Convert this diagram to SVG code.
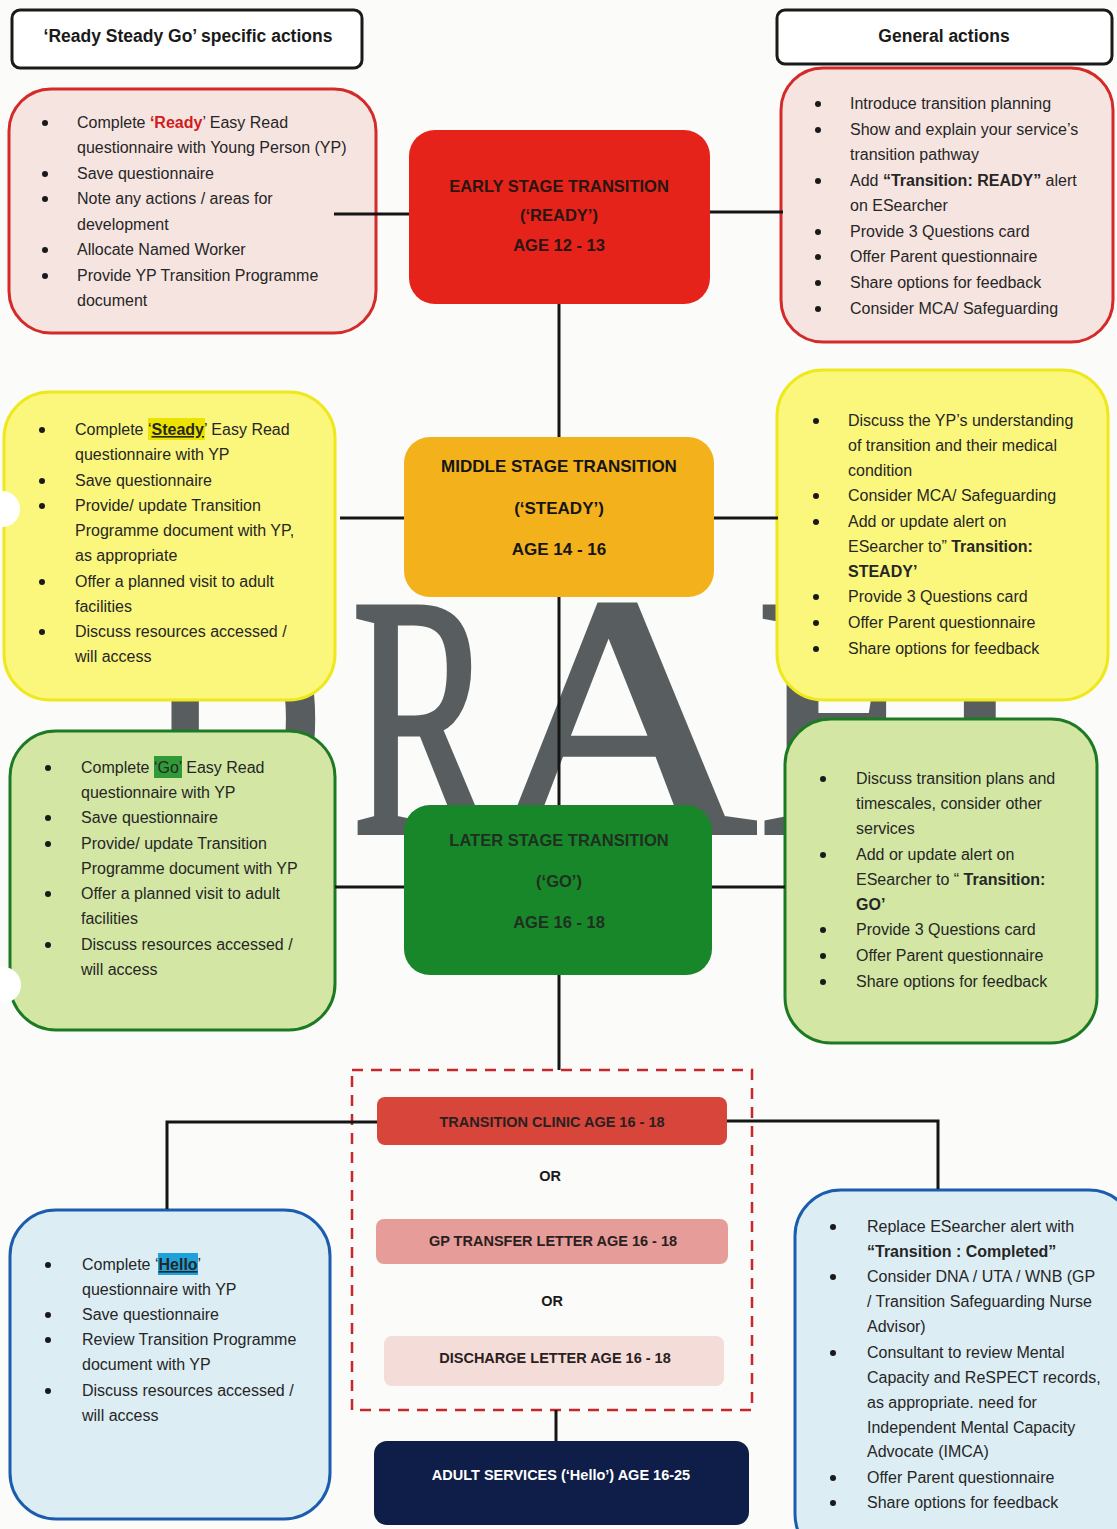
<svg xmlns="http://www.w3.org/2000/svg" width="1117" height="1529" viewBox="0 0 1117 1529">
  <style>
    .tx { font-family: "Liberation Sans", Arial, sans-serif; font-size: 16px; fill: #262626; }
    .bd { font-weight: bold; }
    .hd { font-family: "Liberation Sans", Arial, sans-serif; font-size: 17.5px; font-weight: bold; fill: #1a1a1a; text-anchor: middle; }
    .nd { font-family: "Liberation Sans", Arial, sans-serif; font-weight: bold; text-anchor: middle; }
    .opt { font-family: "Liberation Sans", Arial, sans-serif; font-size: 14.5px; font-weight: bold; text-anchor: middle; fill: #2a2020; }
    .wm { font-family: "Liberation Serif", "Times New Roman", serif; font-size: 343px; fill: #585e5f; stroke: #585e5f; stroke-width: 6; }
    .hdr { fill: #ffffff; stroke: #1a1a1a; stroke-width: 3; }
    .red { fill: #f6e4e1; stroke: #d42a2a; stroke-width: 3; }
    .yel { fill: #fbf67c; stroke: #efe81c; stroke-width: 3; }
    .grn { fill: #d3e6a4; stroke: #1d7a24; stroke-width: 3; }
    .blu { fill: #ddedf4; stroke: #1c5caf; stroke-width: 3; }
    .dot { fill: #1a1a1a; }
    .ln { stroke: #151515; stroke-width: 3; fill: none; }
  </style>

  <rect width="1117" height="1529" fill="#fbfbf9"/>

  <!-- watermark -->
  <g id="watermark">
    <text class="wm" transform="translate(146,832) scale(0.714,1)">D</text>
    <text class="wm" transform="translate(352,832) scale(0.62,1)">R</text>
    <text class="wm" transform="translate(484,832) scale(1.1,1)">A</text>
    <text class="wm" transform="translate(757,832) scale(0.83,1)">F</text>
    <text class="wm" transform="translate(893,832) scale(0.83,1)">T</text>
  </g>

  <!-- headers -->
  <g id="header-rsg">
    <rect class="hdr" x="12" y="10" width="350" height="58" rx="8"/>
    <text class="hd" x="188" y="42">‘Ready Steady Go’ specific actions</text>
  </g>
  <g id="header-general">
    <rect class="hdr" x="777" y="10" width="335" height="54" rx="8"/>
    <text class="hd" x="944" y="42">General actions</text>
  </g>

  <!-- READY specific actions -->
  <g id="ready-specific">
    <rect class="red" x="9" y="89" width="367" height="244" rx="42"/>
    <circle class="dot" cx="45" cy="123" r="3"/>
    <circle class="dot" cx="45" cy="174" r="3"/>
    <circle class="dot" cx="45" cy="199" r="3"/>
    <circle class="dot" cx="45" cy="250" r="3"/>
    <circle class="dot" cx="45" cy="276" r="3"/>
    <text class="tx" x="77" y="128">Complete <tspan class="bd" style="fill:#d01c1c">‘Ready</tspan>’ Easy Read</text>
    <text class="tx" x="77" y="153">questionnaire with Young Person (YP)</text>
    <text class="tx" x="77" y="179">Save questionnaire</text>
    <text class="tx" x="77" y="204">Note any actions / areas for</text>
    <text class="tx" x="77" y="230">development</text>
    <text class="tx" x="77" y="255">Allocate Named Worker</text>
    <text class="tx" x="77" y="281">Provide YP Transition Programme</text>
    <text class="tx" x="77" y="306">document</text>
  </g>

  <!-- READY general actions -->
  <g id="ready-general">
    <rect class="red" x="781" y="68" width="332" height="274" rx="42"/>
    <circle class="dot" cx="818" cy="104" r="3"/>
    <circle class="dot" cx="818" cy="130" r="3"/>
    <circle class="dot" cx="818" cy="181" r="3"/>
    <circle class="dot" cx="818" cy="232" r="3"/>
    <circle class="dot" cx="818" cy="257" r="3"/>
    <circle class="dot" cx="818" cy="283" r="3"/>
    <circle class="dot" cx="818" cy="309" r="3"/>
    <text class="tx" x="850" y="109">Introduce transition planning</text>
    <text class="tx" x="850" y="135">Show and explain your service’s</text>
    <text class="tx" x="850" y="160">transition pathway</text>
    <text class="tx" x="850" y="186">Add <tspan class="bd">“Transition: READY”</tspan> alert</text>
    <text class="tx" x="850" y="211">on ESearcher</text>
    <text class="tx" x="850" y="237">Provide 3 Questions card</text>
    <text class="tx" x="850" y="262">Offer Parent questionnaire</text>
    <text class="tx" x="850" y="288">Share options for feedback</text>
    <text class="tx" x="850" y="314">Consider MCA/ Safeguarding</text>
  </g>

  <!-- early stage -->
  <g id="early-stage">
    <rect x="409" y="130" width="301" height="174" rx="26" fill="#e5231b"/>
    <text class="nd" x="559" y="192" font-size="16.5" fill="#2a1510">EARLY STAGE TRANSITION</text>
    <text class="nd" x="559" y="221" font-size="16.5" fill="#2a1510">(‘READY’)</text>
    <text class="nd" x="559" y="251" font-size="16.5" fill="#2a1510">AGE 12 - 13</text>
  </g>

  <!-- STEADY specific actions -->
  <g id="steady-specific">
    <rect class="yel" x="4" y="392" width="331" height="308" rx="46"/>
    <rect x="148" y="418" width="57" height="22" fill="#ede300"/>
    <circle class="dot" cx="42" cy="430" r="3"/>
    <circle class="dot" cx="42" cy="481" r="3"/>
    <circle class="dot" cx="42" cy="506" r="3"/>
    <circle class="dot" cx="42" cy="582" r="3"/>
    <circle class="dot" cx="42" cy="632" r="3"/>
    <text class="tx" x="75" y="435">Complete ‘<tspan class="bd" text-decoration="underline">Steady</tspan>’ Easy Read</text>
    <text class="tx" x="75" y="460">questionnaire with YP</text>
    <text class="tx" x="75" y="486">Save questionnaire</text>
    <text class="tx" x="75" y="511">Provide/ update Transition</text>
    <text class="tx" x="75" y="536">Programme document with YP,</text>
    <text class="tx" x="75" y="561">as appropriate</text>
    <text class="tx" x="75" y="587">Offer a planned visit to adult</text>
    <text class="tx" x="75" y="612">facilities</text>
    <text class="tx" x="75" y="637">Discuss resources accessed /</text>
    <text class="tx" x="75" y="662">will access</text>
  </g>

  <!-- STEADY general actions -->
  <g id="steady-general">
    <rect class="yel" x="777" y="370" width="331" height="330" rx="46"/>
    <circle class="dot" cx="816" cy="421" r="3"/>
    <circle class="dot" cx="816" cy="496" r="3"/>
    <circle class="dot" cx="816" cy="522" r="3"/>
    <circle class="dot" cx="816" cy="597" r="3"/>
    <circle class="dot" cx="816" cy="623" r="3"/>
    <circle class="dot" cx="816" cy="649" r="3"/>
    <text class="tx" x="848" y="426">Discuss the YP’s understanding</text>
    <text class="tx" x="848" y="451">of transition and their medical</text>
    <text class="tx" x="848" y="476">condition</text>
    <text class="tx" x="848" y="501">Consider MCA/ Safeguarding</text>
    <text class="tx" x="848" y="527">Add or update alert on</text>
    <text class="tx" x="848" y="552">ESearcher to” <tspan class="bd">Transition:</tspan></text>
    <text class="tx bd" x="848" y="577">STEADY’</text>
    <text class="tx" x="848" y="602">Provide 3 Questions card</text>
    <text class="tx" x="848" y="628">Offer Parent questionnaire</text>
    <text class="tx" x="848" y="654">Share options for feedback</text>
  </g>

  <!-- middle stage -->
  <g id="middle-stage">
    <rect x="404" y="437" width="310" height="160" rx="26" fill="#f3b11c"/>
    <text class="nd" x="559" y="472" font-size="17" fill="#151515">MIDDLE STAGE TRANSITION</text>
    <text class="nd" x="559" y="514" font-size="17" fill="#151515">(‘STEADY’)</text>
    <text class="nd" x="559" y="555" font-size="17" fill="#151515">AGE 14 - 16</text>
  </g>

  <!-- GO specific actions -->
  <g id="go-specific">
    <rect class="grn" x="10" y="731" width="325" height="299" rx="46"/>
    <rect x="154" y="756" width="28" height="22" fill="#2f9a36"/>
    <circle class="dot" cx="48" cy="768" r="3"/>
    <circle class="dot" cx="48" cy="818" r="3"/>
    <circle class="dot" cx="48" cy="844" r="3"/>
    <circle class="dot" cx="48" cy="894" r="3"/>
    <circle class="dot" cx="48" cy="945" r="3"/>
    <text class="tx" x="81" y="773">Complete ‘Go’ Easy Read</text>
    <text class="tx" x="81" y="798">questionnaire with YP</text>
    <text class="tx" x="81" y="823">Save questionnaire</text>
    <text class="tx" x="81" y="849">Provide/ update Transition</text>
    <text class="tx" x="81" y="874">Programme document with YP</text>
    <text class="tx" x="81" y="899">Offer a planned visit to adult</text>
    <text class="tx" x="81" y="924">facilities</text>
    <text class="tx" x="81" y="950">Discuss resources accessed /</text>
    <text class="tx" x="81" y="975">will access</text>
  </g>

  <!-- GO general actions -->
  <g id="go-general">
    <rect class="grn" x="785" y="719" width="312" height="324" rx="46"/>
    <circle class="dot" cx="823" cy="779" r="3"/>
    <circle class="dot" cx="823" cy="855" r="3"/>
    <circle class="dot" cx="823" cy="930" r="3"/>
    <circle class="dot" cx="823" cy="956" r="3"/>
    <circle class="dot" cx="823" cy="982" r="3"/>
    <text class="tx" x="856" y="784">Discuss transition plans and</text>
    <text class="tx" x="856" y="809">timescales, consider other</text>
    <text class="tx" x="856" y="834">services</text>
    <text class="tx" x="856" y="860">Add or update alert on</text>
    <text class="tx" x="856" y="885">ESearcher to “ <tspan class="bd">Transition:</tspan></text>
    <text class="tx bd" x="856" y="910">GO’</text>
    <text class="tx" x="856" y="935">Provide 3 Questions card</text>
    <text class="tx" x="856" y="961">Offer Parent questionnaire</text>
    <text class="tx" x="856" y="987">Share options for feedback</text>
  </g>

  <!-- later stage -->
  <g id="later-stage">
    <rect x="404" y="805" width="308" height="170" rx="26" fill="#17872a"/>
    <text class="nd" x="559" y="846" font-size="16.5" fill="#1f3020">LATER STAGE TRANSITION</text>
    <text class="nd" x="559" y="887" font-size="16.5" fill="#1f3020">(‘GO’)</text>
    <text class="nd" x="559" y="928" font-size="16.5" fill="#1f3020">AGE 16 - 18</text>
  </g>

  <!-- exit routes -->
  <g id="exit-routes">
    <rect x="352" y="1070" width="400" height="340" fill="none" stroke="#c9262b" stroke-width="2.5" stroke-dasharray="11 8"/>
  </g>
  <g id="transition-clinic">
    <rect x="377" y="1097" width="350" height="48" rx="8" fill="#d8453b"/>
    <text class="opt" x="552" y="1127">TRANSITION CLINIC AGE 16 - 18</text>
  </g>
  <text class="opt" x="550" y="1181" style="fill:#1a1a1a">OR</text>
  <g id="gp-transfer">
    <rect x="376" y="1219" width="352" height="45" rx="8" fill="#e69c98"/>
    <text class="opt" x="553" y="1246">GP TRANSFER LETTER AGE 16 - 18</text>
  </g>
  <text class="opt" x="552" y="1306" style="fill:#1a1a1a">OR</text>
  <g id="discharge">
    <rect x="384" y="1336" width="340" height="50" rx="8" fill="#f4dcd8"/>
    <text class="opt" x="555" y="1363">DISCHARGE LETTER AGE 16 - 18</text>
  </g>

  <!-- adult services -->
  <g id="adult-services">
    <rect x="374" y="1441" width="375" height="84" rx="13" fill="#0f1e48"/>
    <text class="opt" x="561" y="1480" style="fill:#ffffff">ADULT SERVICES (‘Hello’) AGE 16-25</text>
  </g>

  <!-- HELLO specific actions -->
  <g id="hello-specific">
    <rect class="blu" x="10" y="1210" width="320" height="309" rx="46"/>
    <rect x="158" y="1253" width="40" height="22" fill="#1ea2d9"/>
    <circle class="dot" cx="48" cy="1265" r="3"/>
    <circle class="dot" cx="48" cy="1315" r="3"/>
    <circle class="dot" cx="48" cy="1340" r="3"/>
    <circle class="dot" cx="48" cy="1391" r="3"/>
    <text class="tx" x="82" y="1270">Complete ‘<tspan class="bd" text-decoration="underline">Hello</tspan>’</text>
    <text class="tx" x="82" y="1295">questionnaire with YP</text>
    <text class="tx" x="82" y="1320">Save questionnaire</text>
    <text class="tx" x="82" y="1345">Review Transition Programme</text>
    <text class="tx" x="82" y="1370">document with YP</text>
    <text class="tx" x="82" y="1396">Discuss resources accessed /</text>
    <text class="tx" x="82" y="1421">will access</text>
  </g>

  <!-- HELLO general actions -->
  <g id="hello-general">
    <rect class="blu" x="795" y="1190" width="340" height="370" rx="46"/>
    <circle class="dot" cx="833" cy="1227" r="3"/>
    <circle class="dot" cx="833" cy="1277" r="3"/>
    <circle class="dot" cx="833" cy="1353" r="3"/>
    <circle class="dot" cx="833" cy="1478" r="3"/>
    <circle class="dot" cx="833" cy="1503" r="3"/>
    <text class="tx" x="867" y="1232">Replace ESearcher alert with</text>
    <text class="tx bd" x="867" y="1257">“Transition : Completed”</text>
    <text class="tx" x="867" y="1282">Consider DNA / UTA / WNB (GP</text>
    <text class="tx" x="867" y="1307">/ Transition Safeguarding Nurse</text>
    <text class="tx" x="867" y="1332">Advisor)</text>
    <text class="tx" x="867" y="1358">Consultant to review Mental</text>
    <text class="tx" x="867" y="1383">Capacity and ReSPECT records,</text>
    <text class="tx" x="867" y="1408">as appropriate. need for</text>
    <text class="tx" x="867" y="1433">Independent Mental Capacity</text>
    <text class="tx" x="867" y="1457">Advocate (IMCA)</text>
    <text class="tx" x="867" y="1483">Offer Parent questionnaire</text>
    <text class="tx" x="867" y="1508">Share options for feedback</text>
  </g>

  <!-- connectors -->
  <g id="connectors">
    <line class="ln" x1="334" y1="214" x2="409" y2="214"/>
    <line class="ln" x1="710" y1="212" x2="783" y2="212"/>
    <line class="ln" x1="559" y1="304" x2="559" y2="437"/>
    <line class="ln" x1="340" y1="518" x2="404" y2="518"/>
    <line class="ln" x1="714" y1="518" x2="778" y2="518"/>
    <line class="ln" x1="559" y1="597" x2="559" y2="805"/>
    <line class="ln" x1="335" y1="887" x2="404" y2="887"/>
    <line class="ln" x1="712" y1="887" x2="785" y2="887"/>
    <line class="ln" x1="559" y1="975" x2="559" y2="1070"/>
    <polyline class="ln" points="377,1122 167,1122 167,1209"/>
    <polyline class="ln" points="727,1121 938,1121 938,1189"/>
    <line class="ln" x1="556" y1="1410" x2="556" y2="1441" stroke-width="4"/>
  </g>

  <!-- punched holes along the left margin -->
  <circle cx="2" cy="509" r="18" fill="#ffffff"/>
  <circle cx="3" cy="985" r="18" fill="#ffffff"/>
</svg>
